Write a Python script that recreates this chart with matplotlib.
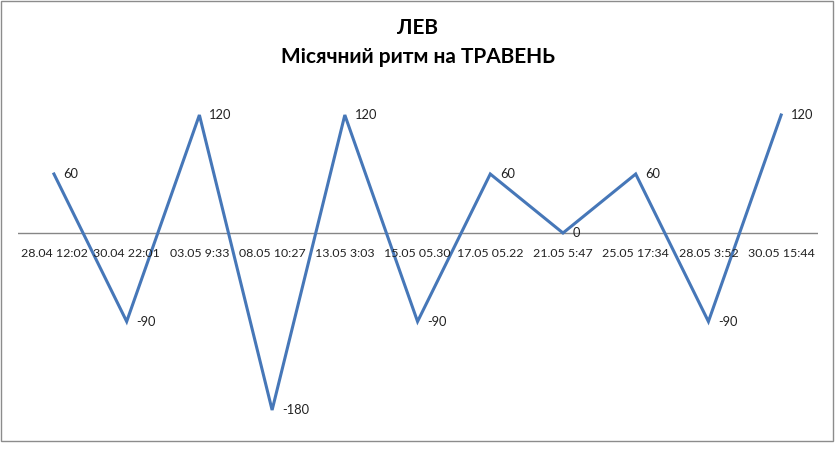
import matplotlib.pyplot as plt
from matplotlib.patches import Rectangle

# ── data ─────────────────────────────────────────────
dates = ["28.04 12:02", "30.04 22:01", "03.05 9:33", "08.05 10:27", "13.05 3:03",
         "15.05 05.30", "17.05 05.22", "21.05 5:47", "25.05 17:34", "28.05 3:52",
         "30.05 15:44"]
values = [60, -90, 120, -180, 120, -90, 60, 0, 60, -90, 120]

W, H = 835, 463
fig = plt.figure(figsize=(W / 100, H / 100), dpi=100)
plt.rcParams["font.family"] = ["Lato", "DejaVu Sans"]

# plot area (pixel coords from the reference)
left, right = 17.6, 817.5
top, bottom = 85.5, 429.7
ax = fig.add_axes([left / W, 1 - bottom / H, (right - left) / W, (bottom - top) / H])

xs = list(range(len(dates)))
ax.plot(xs, values, color="#4677B8", lw=2.2, solid_joinstyle="miter")
ax.set_xlim(-0.5, len(dates) - 0.5)
ax.set_ylim(-200, 150)

# zero axis line
ax.axhline(0, color="#868686", lw=1, zorder=0)

for x, v in zip(xs, values):
    ax.annotate(str(v), (x, v), xytext=(7, 0), textcoords="offset points",
                ha="left", va="center", fontsize=9.3, color="#222222")

# category labels just under the zero line
for x, d in zip(xs, dates):
    ax.annotate(d, (x, 0), xytext=(0, -14.5), textcoords="offset points",
                ha="center", va="center", fontsize=8.9, color="#222222")

ax.axis("off")

fig.text(0.5, 1 - 28 / H, "ЛЕВ", ha="center", va="center", fontsize=15, fontweight="bold")
fig.text(0.5, 1 - 57 / H, "Місячний ритм на ТРАВЕНЬ", ha="center", va="center",
         fontsize=15, fontweight="bold")

# outer chart border
fig.add_artist(Rectangle((1 / W, 1 - 441 / H), 832 / W, 440 / H, transform=fig.transFigure,
                         fill=False, edgecolor="#8c8c8c", lw=1))

fig.savefig("out.png", dpi=100)
